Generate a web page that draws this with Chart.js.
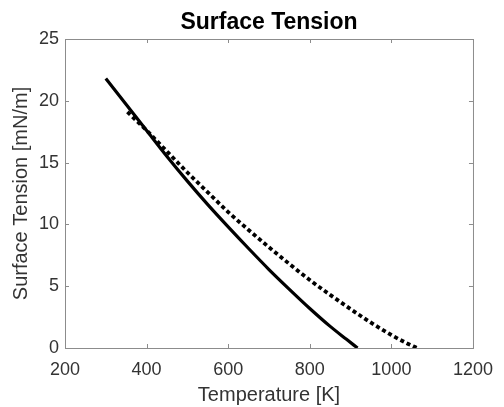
<!DOCTYPE html>
<html>
<head>
<meta charset="utf-8">
<script src="https://cdn.jsdelivr.net/npm/chart.js@4/dist/chart.umd.min.js"></script>
<style>
  html, body { margin: 0; padding: 0; background: #fff; }
  #wrap { width: 504px; height: 407px; }
</style>
</head>
<body>
<div id="wrap"><canvas id="tension-chart"></canvas></div>
<script>
// values
const solidTemp = [300, 350, 400, 450, 500, 550, 600, 650, 700, 750, 800, 850, 890, 917];
const solidSigma = [21.8, 19.7, 17.6, 15.5, 13.5, 11.6, 9.8, 8.05, 6.35, 4.75, 3.2, 1.75, 0.7, 0];
const dottedTemp = [353, 400, 450, 500, 550, 600, 650, 700, 750, 800, 850, 900, 950, 1000, 1040, 1063];
const dottedSigma = [19.1, 17.6, 15.9, 14.2, 12.6, 11.0, 9.55, 8.15, 6.8, 5.5, 4.3, 3.15, 2.05, 1.05, 0.35, 0];
const xTicks = [200, 400, 600, 800, 1000, 1200];
const yTicks = [0, 5, 10, 15, 20, 25];

const textColor = '#333333';
const boxColor = '#8c8c8c';
const fontFamily = 'Liberation Sans, Arial, sans-serif';

function toPoints(xs, ys) {
    const points = [];
    xs.forEach((x, i) => {
        points.push({ x: x, y: ys[i] });
    });
    return points;
}

// box round the plot with inward ticks on all four sides
const boxPlugin = {
    id: 'box',
    afterDatasetsDraw(chart) {
        const ctx = chart.ctx;
        const area = chart.chartArea;
        const xScale = chart.scales.x;
        const yScale = chart.scales.y;
        const tickLen = 4;
        ctx.save();
        ctx.strokeStyle = boxColor;
        ctx.lineWidth = 1;
        ctx.strokeRect(area.left + 0.5, area.top + 0.5, area.right - area.left, area.bottom - area.top);
        ctx.beginPath();
        xTicks.forEach(t => {
            const px = Math.round(xScale.getPixelForValue(t)) + 0.5;
            ctx.moveTo(px, area.bottom);
            ctx.lineTo(px, area.bottom - tickLen);
            ctx.moveTo(px, area.top);
            ctx.lineTo(px, area.top + tickLen);
        });
        yTicks.forEach(t => {
            const py = Math.round(yScale.getPixelForValue(t)) + 0.5;
            ctx.moveTo(area.left, py);
            ctx.lineTo(area.left + tickLen, py);
            ctx.moveTo(area.right, py);
            ctx.lineTo(area.right - tickLen, py);
        });
        ctx.stroke();
        ctx.restore();
    }
};

const chartEl = document.getElementById('tension-chart');
new Chart(chartEl, {
    type: 'line',
    data: {
        datasets: [
            {
                label: 'solid',
                data: toPoints(solidTemp, solidSigma),
                borderColor: '#000',
                borderWidth: 3.2,
                pointRadius: 0,
                cubicInterpolationMode: 'monotone',
                fill: false
            },
            {
                label: 'dotted',
                data: toPoints(dottedTemp, dottedSigma),
                borderColor: '#000',
                borderWidth: 3.8,
                borderDash: [4, 3],
                borderCapStyle: 'butt',
                pointRadius: 0,
                cubicInterpolationMode: 'monotone',
                fill: false
            }
        ]
    },
    options: {
        responsive: true,
        maintainAspectRatio: false,
        animation: false,
        layout: { padding: { left: 0, right: 24, top: 0, bottom: 0 } },
        plugins: {
            legend: { display: false },
            tooltip: { enabled: false },
            title: {
                display: true,
                text: 'Surface Tension',
                color: '#000',
                fullSize: false,
                font: { family: fontFamily, size: 23, weight: 'bold', lineHeight: 1.2 },
                padding: { top: 9, bottom: 2.4 }
            }
        },
        scales: {
            x: {
                type: 'linear',
                min: 200,
                max: 1200,
                afterBuildTicks: scale => { scale.ticks = xTicks.map(v => ({ value: v })); },
                afterFit: scale => { scale.height = 59; },
                grid: { display: false, drawTicks: false },
                border: { display: false },
                ticks: {
                    color: textColor,
                    font: { family: fontFamily, size: 18 },
                    padding: 11,
                    maxRotation: 0,
                    callback: value => String(value)
                },
                title: {
                    display: true,
                    text: 'Temperature [K]',
                    color: textColor,
                    font: { family: fontFamily, size: 20 },
                    padding: { top: 0, bottom: 0 }
                }
            },
            y: {
                type: 'linear',
                min: 0,
                max: 25,
                afterBuildTicks: scale => { scale.ticks = yTicks.map(v => ({ value: v })); },
                afterFit: scale => { scale.width = 65; },
                grid: { display: false, drawTicks: false },
                border: { display: false },
                ticks: {
                    color: textColor,
                    font: { family: fontFamily, size: 18 },
                    padding: 6,
                    callback: value => String(value)
                },
                title: {
                    display: true,
                    text: 'Surface Tension [mN/m]',
                    color: textColor,
                    font: { family: fontFamily, size: 20 },
                    padding: { top: 9, bottom: 0 }
                }
            }
        }
    },
    plugins: [boxPlugin]
});
</script>
</body>
</html>
